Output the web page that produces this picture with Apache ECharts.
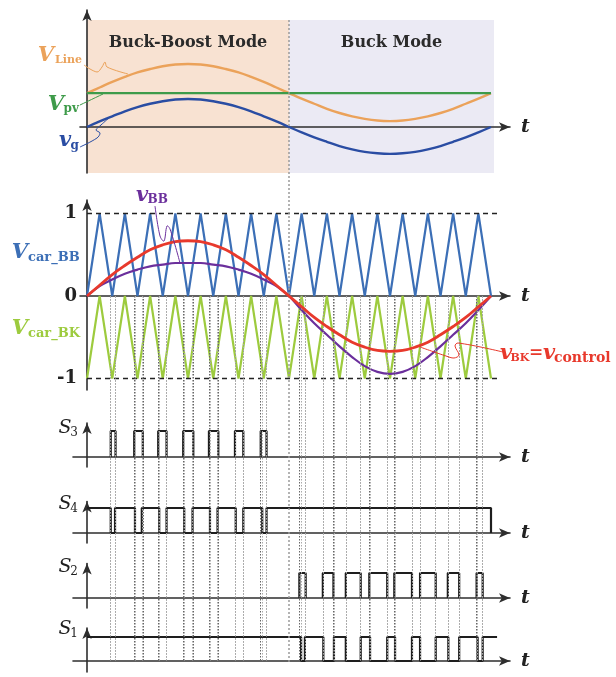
<!DOCTYPE html>
<html><head><meta charset="utf-8">
<script src="https://cdn.jsdelivr.net/npm/echarts@6/dist/echarts.min.js"></script>
<style>html,body{margin:0;padding:0;background:#fff}#c{width:616px;height:677px}</style>
</head><body><div id="c"></div>
<script>
// ---------------- DATA ----------------
// time in carrier periods: one line period = 16 carrier periods
const tSamples = [0,0.5,1,1.5,2,2.5,3,3.5,4,4.5,5,5.5,6,6.5,7,7.5,8,8.5,9,9.5,10,10.5,11,11.5,12,12.5,13,13.5,14,14.5,15,15.5,16];
// top panel (units: v_g peak = 1)
const vLine = [1.21,1.41,1.61,1.79,1.95,2.07,2.17,2.23,2.25,2.23,2.17,2.07,1.95,1.79,1.61,1.41,1.21,1.01,0.83,0.65,0.5,0.38,0.29,0.23,0.21,0.23,0.29,0.38,0.5,0.65,0.83,1.01,1.21];
const vpvLevel = 1.21;
const vg = [0,0.2,0.38,0.56,0.71,0.83,0.92,0.98,1.0,0.98,0.92,0.83,0.71,0.56,0.38,0.2,0,-0.19,-0.37,-0.53,-0.68,-0.8,-0.89,-0.94,-0.96,-0.94,-0.89,-0.8,-0.68,-0.53,-0.37,-0.19,0];
// carrier / modulation panel
const carrierBB = [0,1,0,1,0,1,0,1,0,1,0,1,0,1,0,1,0,1,0,1,0,1,0,1,0,1,0,1,0,1,0,1,0];
const carrierBK = [-1,0,-1,0,-1,0,-1,0,-1,0,-1,0,-1,0,-1,0,-1,0,-1,0,-1,0,-1,0,-1,0,-1,0,-1,0,-1,0,-1];
const vControl = [0,0.13,0.26,0.37,0.47,0.56,0.62,0.66,0.67,0.66,0.62,0.56,0.47,0.37,0.26,0.13,0,-0.13,-0.26,-0.37,-0.47,-0.56,-0.62,-0.66,-0.67,-0.66,-0.62,-0.56,-0.47,-0.37,-0.26,-0.13,0];
const vBB = [0,0.12,0.2,0.27,0.32,0.36,0.38,0.4,0.4,0.4,0.38,0.36,0.32,0.27,0.2,0.12,0,-0.17,-0.33,-0.47,-0.61,-0.74,-0.85,-0.92,-0.945,-0.92,-0.85,-0.74,-0.61,-0.47,-0.33,-0.17,0];
const levelTicks = [-1, 0, 1];
const dashedLevels = [1, -1];
const modeBoundary = 8, periodEnd = 16, bgEnd = 16.12, dashEnd = 16.36;
const modeNames = ['Buck-Boost Mode', 'Buck Mode'];
// switching signals: edge times
const s3On  = [[0.94,1.13],[1.87,2.21],[2.82,3.15],[3.81,4.21],[4.83,5.20],[5.86,6.19],[6.88,7.11]];
const s4Off = [[0.94,1.11],[1.90,2.17],[2.86,3.15],[3.85,4.18],[4.87,5.17],[5.89,6.19],[6.94,7.11]];
const s2On  = [[8.41,8.66],[9.34,9.76],[10.25,10.84],[11.18,11.89],[12.17,12.87],[13.19,13.81],[14.29,14.74],[15.43,15.67]];
const s1Off = [[8.48,8.63],[9.36,9.78],[10.25,10.84],[11.21,11.89],[12.20,12.87],[13.19,13.81],[14.31,14.74],[15.47,15.67]];
const s1End = 16.24;

// ---------------- LAYOUT ----------------
const X0 = 87, PX = 25.25, XEND = 510;
const tx = px => (px - X0) / PX;
const FF = '"DejaVu Serif", serif';
const C = {
  orange:'#EBA25A', green:'#3E9B4A', blue:'#2A4DA3', cblue:'#3C6FB6', cgreen:'#9DCB3E',
  red:'#E8392C', purple:'#6B2F9C', peach:'#F8E2D2', lav:'#EBEAF4', axis:'#2e2e2e', sig:'#1e1e1e'
};
const panels = [
  {left:80, top:10,    bottom:173, zero:127, unit:28},
  {left:80, top:200,   bottom:390, zero:296, unit:82.5},
  {left:73, top:423,   bottom:467, zero:457, unit:26},
  {left:73, top:501.5, bottom:543, zero:533, unit:25},
  {left:73, top:563.5, bottom:608, zero:598, unit:25},
  {left:73, top:628,   bottom:672, zero:661, unit:24}
];
const OV = {top:20, bottom:662};

const grids = [], xAxes = [], yAxes = [];
const arrowLine = () => ({show:true, onZero:true, symbol:['none','arrow'], symbolSize:[7,11],
  lineStyle:{color:C.axis, width:1.6}});
panels.forEach((p, i) => {
  grids.push({left:p.left, top:p.top, width:XEND - p.left, height:p.bottom - p.top});
  xAxes.push({type:'value', gridIndex:i, min:tx(p.left), max:tx(XEND), z:3,
    axisLine:arrowLine(), axisTick:{show:false}, axisLabel:{show:false}, splitLine:{show:false},
    name:'t', nameLocation:'end', nameGap:11,
    nameTextStyle:{fontFamily:FF, fontStyle:'italic', fontWeight:'bold', fontSize:19, color:'#222'}});
  const ya = {type:'value', gridIndex:i, min:-(p.bottom - p.zero)/p.unit, max:(p.zero - p.top)/p.unit, z:3,
    axisLine:arrowLine(), axisTick:{show:false}, axisLabel:{show:false}, splitLine:{show:false}};
  if (i === 1) {
    ya.axisLabel = {show:true, customValues:levelTicks, margin:3, fontFamily:FF, fontWeight:'bold',
      fontSize:18, color:'#222', formatter:v => String(v)};
  }
  yAxes.push(ya);
});
// overlay grid for dotted guide lines (y in px-from-bottom units)
grids.push({left:X0, top:OV.top, width:XEND - X0, height:OV.bottom - OV.top});
xAxes.push({type:'value', gridIndex:6, min:0, max:tx(XEND), show:false});
yAxes.push({type:'value', gridIndex:6, min:0, max:OV.bottom - OV.top, show:false});

const pts = arr => tSamples.map((t, i) => [t, arr[i]]);
function pulsesOn(on) {
  const d = [];
  on.forEach(([a, b]) => d.push([a,0],[a,1],[b,1],[b,0],[b,'-']));
  return d;
}
function highWithNotches(off, end, dropAtEnd) {
  const d = [[0,1]];
  off.forEach(([a, b]) => d.push([a,1],[a,0],[b,0],[b,1]));
  d.push([end,1]);
  if (dropAtEnd) d.push([end,0]);
  return d;
}
const curve = (name, gi, data, color, width, z, smooth) => ({
  name, type:'line', xAxisIndex:gi, yAxisIndex:gi, data, symbol:'none', smooth:smooth || false,
  lineStyle:{color, width}, z: z || 4, silent:true, connectNulls:false
});

const p0 = panels[0];
const bgTop = (p0.zero - 20) / p0.unit, bgBot = -(p0.bottom - p0.zero) / p0.unit;
const modeLabel = txt => ({show:true, position:'insideTop', distance:15, formatter:txt,
  fontFamily:FF, fontWeight:'bold', fontSize:16, color:'#2b2b2b'});

const series = [];
// backgrounds
series.push({type:'line', xAxisIndex:0, yAxisIndex:0, data:[[0,0]], symbol:'none',
  lineStyle:{width:0, opacity:0}, z:1, silent:true,
  markArea:{silent:true, data:[
    [{xAxis:0, yAxis:bgBot, itemStyle:{color:C.peach}, label:modeLabel(modeNames[0])}, {xAxis:modeBoundary, yAxis:bgTop}],
    [{xAxis:modeBoundary, yAxis:bgBot, itemStyle:{color:C.lav}, label:modeLabel(modeNames[1])}, {xAxis:bgEnd, yAxis:bgTop}]
  ]}});
series.push(curve('V_Line', 0, pts(vLine), C.orange, 2.4, 4, 0.4));
series.push(curve('V_pv', 0, [[0, vpvLevel], [periodEnd, vpvLevel]], C.green, 2.4, 4));
series.push(curve('v_g', 0, pts(vg), C.blue, 2.4, 4, 0.4));
// panel 2
const cbb = curve('V_car_BB', 1, pts(carrierBB), C.cblue, 2.2, 3);
cbb.markLine = {silent:true, symbol:['none','none'], label:{show:false},
  lineStyle:{color:'#222', width:1.3, type:[5,4]},
  data: dashedLevels.map(v => [{coord:[0, v]}, {coord:[dashEnd, v]}])};
series.push(cbb);
series.push(curve('V_car_BK', 1, pts(carrierBK), C.cgreen, 2.2, 3));
series.push(curve('v_BB', 1, pts(vBB), C.purple, 2.2, 4, 0.4));
series.push(curve('v_BK', 1, pts(vControl), C.red, 2.8, 5, 0.4));
// switching signals
series.push(curve('S3', 2, pulsesOn(s3On), C.sig, 2.2, 4));
series.push(curve('S4', 3, highWithNotches(s4Off, periodEnd, true), C.sig, 2.2, 4));
series.push(curve('S2', 4, pulsesOn(s2On), C.sig, 2.2, 4));
series.push(curve('S1', 5, highWithNotches(s1Off, s1End, false), C.sig, 2.2, 4));
// dotted guide lines
const yStart = OV.bottom - panels[1].zero, yAll = OV.bottom - OV.top;
const guide = [];
[[s3On,'#666'],[s4Off,'#aaa'],[s2On,'#666'],[s1Off,'#aaa']].forEach(([arr, col]) => {
  arr.flat().forEach(e => guide.push([{coord:[e, yStart], lineStyle:{color:col}}, {coord:[e, 0]}]));
});
guide.push([{coord:[modeBoundary, yAll], lineStyle:{color:'#9a9a9a', width:1.5, type:[2,2]}}, {coord:[modeBoundary, 0]}]);
series.push({type:'line', xAxisIndex:6, yAxisIndex:6, data:[[0,0]], symbol:'none',
  lineStyle:{width:0, opacity:0}, z:1, silent:true,
  markLine:{silent:true, symbol:['none','none'], label:{show:false},
    lineStyle:{width:1, type:[1.5,1.5]}, data:guide}});

// ---------------- ANNOTATIONS ----------------
const T = (x, y, text, color, font, align) => ({type:'text', x, y, z:10, silent:true,
  style:{text, fill:color, font:font + ' ' + FF, align:align || 'center', verticalAlign:'middle'}});
const big = 'italic bold 21px', sub = 'bold 12px';
const leader = (points, color) => ({type:'polyline', z:9, silent:true,
  shape:{points, smooth:0.35}, style:{stroke:color, lineWidth:1, fill:null}});
const graphic = [
  T(46, 55.5, 'V', C.orange, big), T(55, 60, 'Line', C.orange, 'bold 11px', 'left'),
  T(56, 105, 'V', C.green, big), T(63.5, 108.5, 'pv', C.green, sub, 'left'),
  T(65, 140.5, 'v', C.blue, big), T(70.5, 146, 'g', C.blue, sub, 'left'),
  T(20, 253, 'V', C.cblue, big), T(28, 257.5, 'car_BB', C.cblue, 'bold 13px', 'left'),
  T(20, 329, 'V', C.cgreen, big), T(28, 333.5, 'car_BK', C.cgreen, 'bold 13px', 'left'),
  T(142, 195.5, 'v', C.purple, big), T(147.5, 200, 'BB', C.purple, sub, 'left'),
  T(506, 354, 'v', C.red, big), T(510.5, 358.5, 'BK', C.red, 'bold 11px', 'left'),
  T(536, 353, '=', C.red, 'bold 17px'),
  T(549, 354, 'v', C.red, big), T(554, 358.5, 'control', C.red, 'bold 14px', 'left'),
  T(65, 428, 'S', '#1e1e1e', 'italic 19px'), T(74, 432.5, '3', '#1e1e1e', '12px'),
  T(65, 504, 'S', '#1e1e1e', 'italic 19px'), T(74, 508.5, '4', '#1e1e1e', '12px'),
  T(65, 567, 'S', '#1e1e1e', 'italic 19px'), T(74, 571.5, '2', '#1e1e1e', '12px'),
  T(65, 629.5, 'S', '#1e1e1e', 'italic 19px'), T(74, 634, '1', '#1e1e1e', '12px'),
  leader([[84,65],[97,72],[102,67],[105,62],[107,67],[128,74]], C.orange),
  leader([[80,105],[103,94]], C.green),
  leader([[80,147],[97,138],[100,133],[96,130],[101,125],[110,117]], C.blue),
  leader([[155,206],[160,236],[164,241],[167,226],[170,229],[180,263]], C.purple),
  leader([[503,352],[458,343],[455,346],[459,355],[454,358],[446,356],[420,347]], C.red)
];

const chart = echarts.init(document.getElementById('c'), null, {renderer:'canvas', width:616, height:677});
chart.setOption({animation:false, grid:grids, xAxis:xAxes, yAxis:yAxes, series, graphic});
</script></body></html>
